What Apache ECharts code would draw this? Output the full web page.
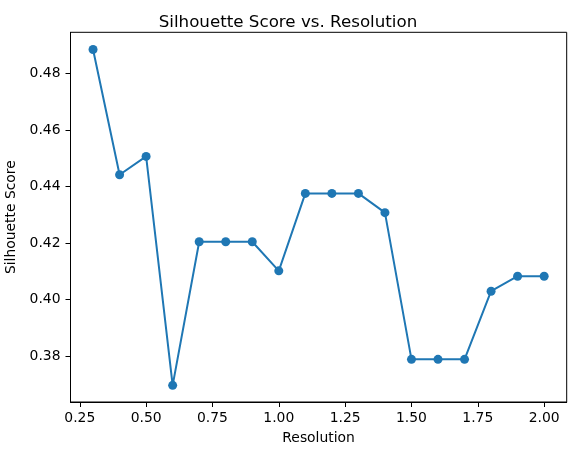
<!DOCTYPE html>
<html><head><meta charset="utf-8">
<script src="https://cdn.jsdelivr.net/npm/echarts@6/dist/echarts.min.js"></script>
<style>html,body{margin:0;padding:0;background:#fff}#c{width:576px;height:455px}</style>
</head><body><div id="c"></div>
<script>
const resolution = [0.3,0.4,0.5,0.6,0.7,0.8,0.9,1.0,1.1,1.2,1.3,1.4,1.5,1.6,1.7,1.8,1.9,2.0];
const silhouette = [0.4885,0.4442,0.4507,0.3697,0.4205,0.4205,0.4205,0.4102,0.4376,0.4376,0.4376,0.4308,0.3789,0.3789,0.3789,0.4030,0.4083,0.4083];
const xTicks = [0.25,0.5,0.75,1.0,1.25,1.5,1.75,2.0];
const yTicks = [0.38,0.40,0.42,0.44,0.46,0.48];

const font = 'DejaVu Sans';
const chart = echarts.init(document.getElementById('c'));
chart.setOption({
  animation:false,
  title:{text:'Silhouette Score vs. Resolution',left:'center',top:9,
    textStyle:{fontFamily:font,fontSize:16.7,fontWeight:'normal',color:'#000'}},
  grid:{left:70.5,right:9.3,top:32.3,bottom:53,outerBoundsMode:'none',containLabel:false,
    show:true,borderColor:'#000',borderWidth:1,backgroundColor:'transparent'},
  xAxis:{type:'value',min:0.215,max:2.085,
    name:'Resolution',nameLocation:'middle',nameGap:29,
    nameTextStyle:{fontFamily:font,fontSize:13.9,color:'#000'},
    axisLine:{show:true,onZero:false,lineStyle:{color:'#000',width:1}},
    axisTick:{show:true,length:5,customValues:xTicks,lineStyle:{color:'#000'}},
    axisLabel:{customValues:xTicks,fontFamily:font,fontSize:13.9,color:'#000',margin:9,formatter:v=>v.toFixed(2)},
    splitLine:{show:false}},
  yAxis:{type:'value',min:0.3638,max:0.4946,
    name:'Silhouette Score',nameLocation:'middle',nameGap:50,
    nameTextStyle:{fontFamily:font,fontSize:13.9,color:'#000'},
    axisLine:{show:true,onZero:false,lineStyle:{color:'#000',width:1}},
    axisTick:{show:true,length:5,customValues:yTicks,lineStyle:{color:'#000'}},
    axisLabel:{customValues:yTicks,fontFamily:font,fontSize:13.9,color:'#000',margin:10,formatter:v=>v.toFixed(2)},
    splitLine:{show:false}},
  series:[{type:'line',data:resolution.map((x,i)=>[x,silhouette[i]]),
    symbol:'circle',symbolSize:9,showAllSymbol:true,
    lineStyle:{color:'#1f77b4',width:2},itemStyle:{color:'#1f77b4'}}]
});
</script></body></html>
